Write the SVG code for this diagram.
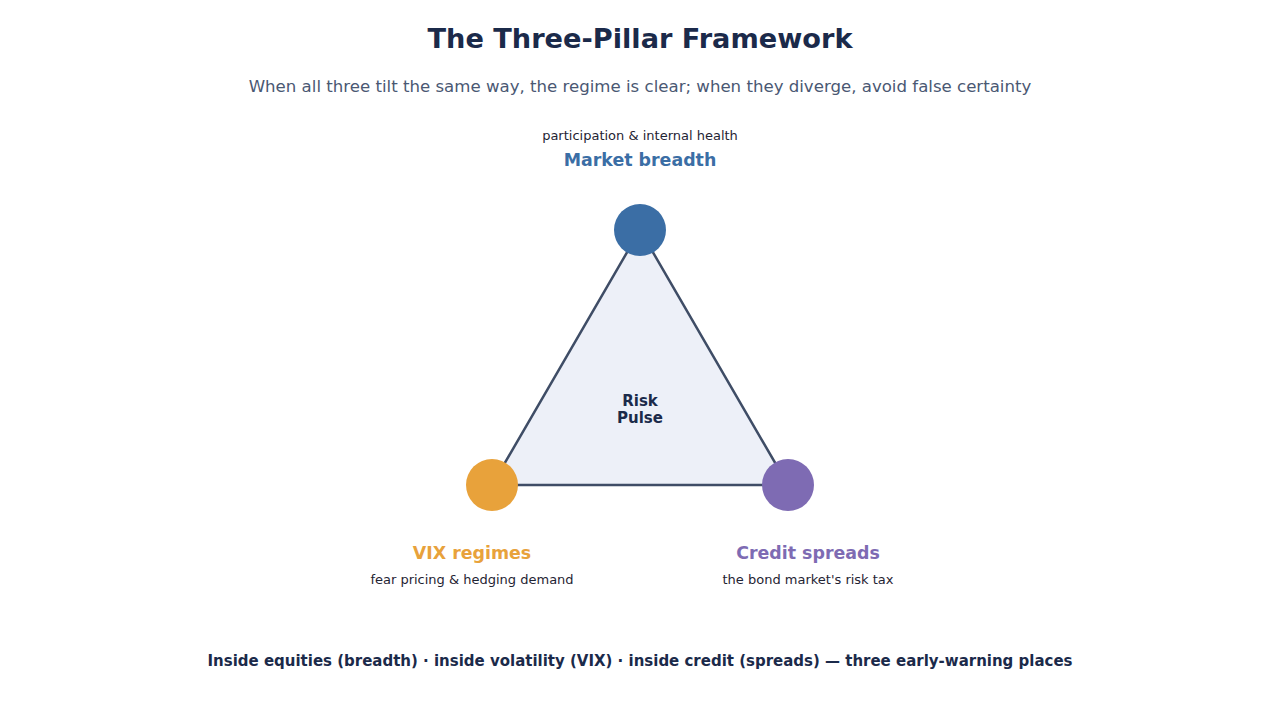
<svg xmlns="http://www.w3.org/2000/svg" width="1280" height="720" viewBox="0 0 1280 720">
<style>
text{font-family:"DejaVu Sans","Liberation Sans",sans-serif;text-anchor:middle}
.title{font-size:27.2px;font-weight:bold;fill:#1b2a4a}
.sub{font-size:16.6px;fill:#4a5873}
.desc{font-size:13px;fill:#1f2433}
.lab{font-size:17.4px;font-weight:bold}
.center{font-size:15px;font-weight:bold;fill:#1b2a4a}
.foot{font-size:15px;font-weight:bold;fill:#1b2a4a}
</style>
<rect width="1280" height="720" fill="#ffffff"/>
<text class="title" x="640" y="48">The Three-Pillar Framework</text>
<text class="sub" x="640" y="92">When all three tilt the same way, the regime is clear; when they diverge, avoid false certainty</text>
<g id="connectors">
<polygon points="640,230 492,485 788,485" fill="#edf0f8" stroke="#3f4d66" stroke-width="2.5" stroke-linejoin="round"/>
</g>
<g id="center">
<text class="center" x="640" y="406">Risk</text>
<text class="center" x="640" y="423">Pulse</text>
</g>
<g id="breadth">
<circle cx="640" cy="230" r="26" fill="#3b6ea5"/>
<text class="desc" x="640" y="140">participation &amp; internal health</text>
<text class="lab" x="640" y="166" fill="#3b6ea5">Market breadth</text>
</g>
<g id="vix">
<circle cx="492" cy="485" r="26" fill="#e8a23b"/>
<text class="lab" x="472" y="559" fill="#e8a23b">VIX regimes</text>
<text class="desc" x="472" y="584">fear pricing &amp; hedging demand</text>
</g>
<g id="credit">
<circle cx="788" cy="485" r="26" fill="#7e6bb3"/>
<text class="lab" x="808" y="559" fill="#7e6bb3">Credit spreads</text>
<text class="desc" x="808" y="584">the bond market's risk tax</text>
</g>
<text class="foot" x="640" y="666" textLength="865" lengthAdjust="spacingAndGlyphs">Inside equities (breadth) · inside volatility (VIX) · inside credit (spreads) — three early-warning places</text>
</svg>
